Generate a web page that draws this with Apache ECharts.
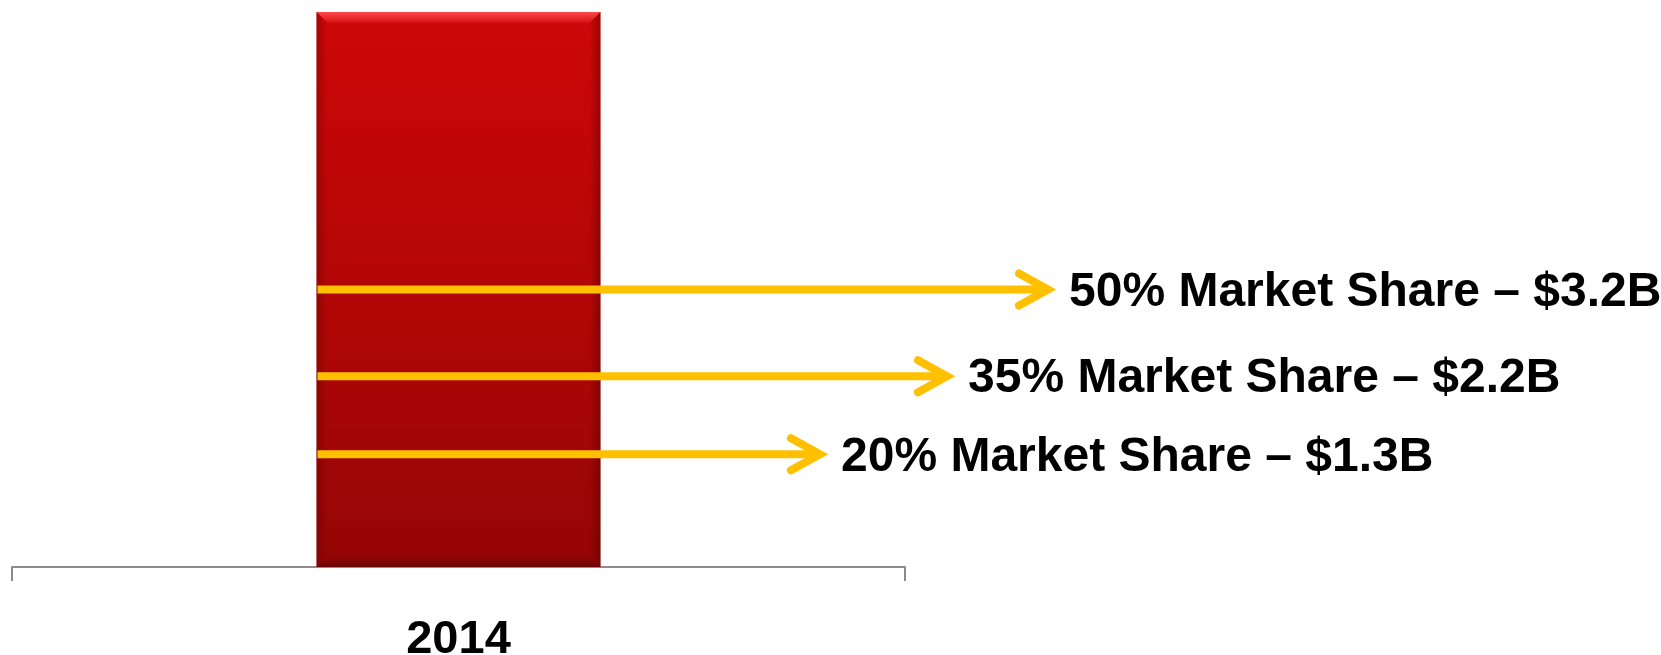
<!DOCTYPE html>
<html>
<head>
<meta charset="utf-8">
<style>
  html, body { margin: 0; padding: 0; background: #ffffff; }
  #chart { width: 1661px; height: 655px; }
</style>
<script src="https://cdn.jsdelivr.net/npm/echarts@6/dist/echarts.min.js"></script>
</head>
<body>
<div id="chart"></div>
<script>
// Total market for the year, in $B
const categories = ['2014'];
const totalMarket = [6.4];

// Market-share scenarios and the revenue each one represents ($B)
const shareLevels = [50, 35, 20];
const shareValues = [3.2, 2.2, 1.3];

// Where each arrow's head ends (pixels) – layout only
const arrowTipX = [1048, 947, 820];

const FONT = '"Liberation Sans", Arial, "Helvetica Neue", sans-serif';
const ARROW_COLOR = '#FFC000';

const chart = echarts.init(document.getElementById('chart'), null, { renderer: 'canvas' });

chart.setOption({
  animation: false,
  backgroundColor: '#ffffff',
  grid: { left: 12, right: 756, top: 12, bottom: 88, containLabel: false, outerBoundsMode: 'none' },
  xAxis: {
    type: 'category',
    data: categories,
    boundaryGap: true,
    axisLine: { show: true, lineStyle: { color: '#8c8c8c', width: 2 } },
    axisTick: { show: true, length: 14, alignWithLabel: false, lineStyle: { color: '#8c8c8c', width: 2 } },
    axisLabel: { margin: 50, color: '#000000', fontFamily: FONT, fontWeight: 'bold', fontSize: 47 }
  },
  yAxis: {
    type: 'value',
    min: 0,
    max: totalMarket[0],
    show: false,
    splitLine: { show: false }
  },
  series: [{
    type: 'bar',
    data: totalMarket,
    barWidth: 284,
    itemStyle: {
      color: new echarts.graphic.LinearGradient(0, 0, 0, 1, [
        { offset: 0, color: '#CE0707' },
        { offset: 0.5, color: '#B30606' },
        { offset: 1, color: '#950505' }
      ]),
      shadowBlur: 8,
      shadowColor: 'rgba(0,0,0,0.45)',
      shadowOffsetX: 3,
      shadowOffsetY: 3
    }
  }]
});

// Build bevel, arrows and labels from the chart's own scales
function drawAnnotations() {
  const topPt = chart.convertToPixel({ seriesIndex: 0 }, [0, totalMarket[0]]);
  const basePt = chart.convertToPixel({ seriesIndex: 0 }, [0, 0]);
  const halfW = 284 / 2;
  const barLeft = topPt[0] - halfW;
  const barRight = topPt[0] + halfW;
  const barTop = topPt[1];
  const barBottom = basePt[1];
  const bevel = 11;

  const elements = [];

  // Top bevel highlight of the bar
  elements.push({
    type: 'polygon',
    shape: { points: [[barLeft, barTop], [barRight, barTop], [barRight - bevel, barTop + bevel], [barLeft + bevel, barTop + bevel]] },
    style: {
      fill: new echarts.graphic.LinearGradient(0, 0, 0, 1, [
        { offset: 0, color: '#FF4A4A' },
        { offset: 1, color: '#D41010' }
      ])
    },
    z: 10
  });
  // Darker side and bottom edges
  elements.push({
    type: 'polygon',
    shape: { points: [[barLeft, barTop], [barLeft + bevel, barTop + bevel], [barLeft + bevel, barBottom - bevel], [barLeft, barBottom]] },
    style: {
      fill: new echarts.graphic.LinearGradient(0, 0, 1, 0, [
        { offset: 0, color: 'rgba(90,0,0,0.35)' },
        { offset: 1, color: 'rgba(90,0,0,0)' }
      ])
    },
    z: 10
  });
  elements.push({
    type: 'polygon',
    shape: { points: [[barRight, barTop], [barRight - bevel, barTop + bevel], [barRight - bevel, barBottom - bevel], [barRight, barBottom]] },
    style: {
      fill: new echarts.graphic.LinearGradient(1, 0, 0, 0, [
        { offset: 0, color: 'rgba(60,0,0,0.35)' },
        { offset: 1, color: 'rgba(60,0,0,0)' }
      ])
    },
    z: 10
  });
  elements.push({
    type: 'polygon',
    shape: { points: [[barLeft, barBottom], [barLeft + bevel, barBottom - bevel], [barRight - bevel, barBottom - bevel], [barRight, barBottom]] },
    style: {
      fill: new echarts.graphic.LinearGradient(0, 1, 0, 0, [
        { offset: 0, color: 'rgba(60,0,0,0.45)' },
        { offset: 1, color: 'rgba(60,0,0,0)' }
      ])
    },
    z: 10
  });

  shareValues.forEach((v, i) => {
    const y = chart.convertToPixel({ yAxisIndex: 0 }, v);
    const tip = arrowTipX[i];
    // Shaft
    elements.push({
      type: 'line',
      shape: { x1: barLeft + 1, y1: y, x2: tip - 5, y2: y },
      style: { stroke: ARROW_COLOR, lineWidth: 8, lineCap: 'butt' },
      z: 20
    });
    // Open chevron head
    elements.push({
      type: 'polyline',
      shape: { points: [[tip - 29, y - 16], [tip, y], [tip - 29, y + 16]] },
      style: { stroke: ARROW_COLOR, fill: null, lineWidth: 8, lineCap: 'round', lineJoin: 'miter' },
      z: 20
    });
    // Label
    elements.push({
      type: 'text',
      x: tip + 21,
      y: y + 3,
      style: {
        text: shareLevels[i] + '% Market Share \u2013 $' + v.toFixed(1) + 'B',
        font: 'bold 48px ' + FONT,
        fill: '#000000',
        verticalAlign: 'middle',
        align: 'left'
      },
      z: 20
    });
  });

  chart.setOption({ graphic: { elements: elements } });
}

drawAnnotations();
</script>
</body>
</html>
